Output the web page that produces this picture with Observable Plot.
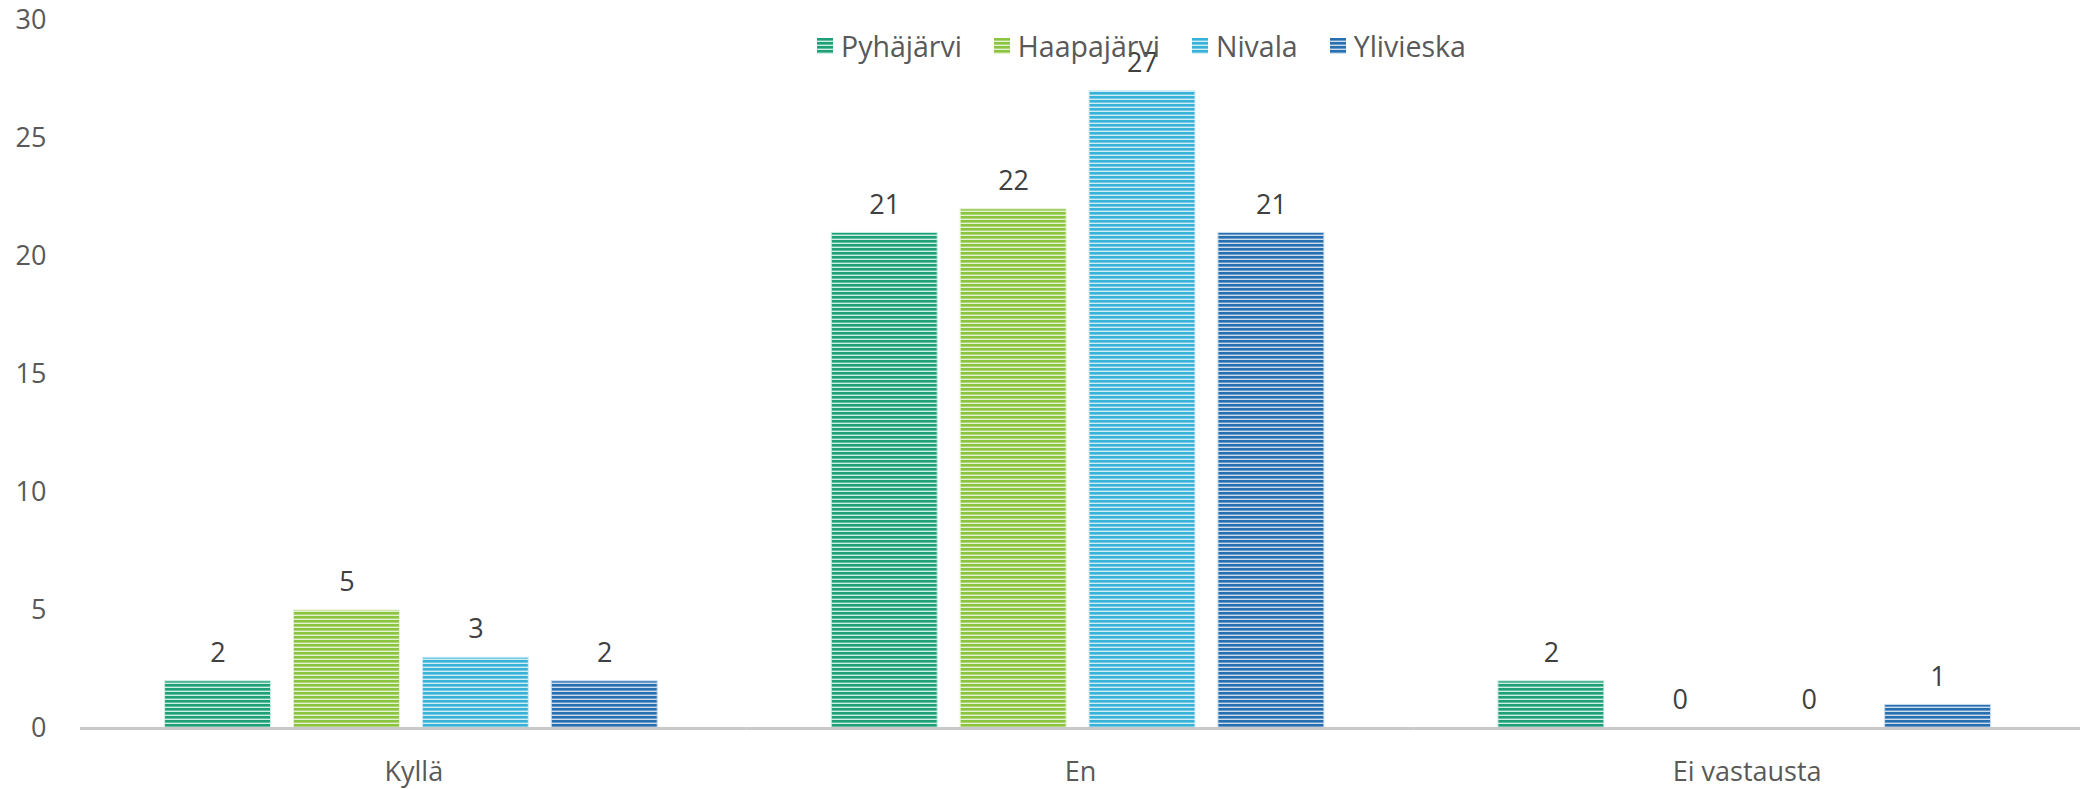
<!DOCTYPE html>
<html>
<head>
<meta charset="utf-8">
<script src="https://cdn.jsdelivr.net/npm/d3@7"></script>
<script src="https://cdn.jsdelivr.net/npm/@observablehq/plot@0.6"></script>
<style>
  body { margin: 0; background: #fff; font-family: "Open Sans", sans-serif; }
  #wrap { position: relative; width: 2080px; height: 789px; }
  #legend { position: absolute; left: 817px; top: 26px; display: flex; align-items: center;
            font-size: 28.5px; line-height: 40px; color: #595959; white-space: nowrap; }
  .item { display: flex; align-items: center; margin-right: 32px; }
  .item svg { margin-right: 8px; }
</style>
</head>
<body>
<div id="wrap"><div id="legend"></div></div>
<script>
const categories = ["Kyllä", "En", "Ei vastausta"];
const series = ["Pyhäjärvi", "Haapajärvi", "Nivala", "Ylivieska"];
const pyhajarvi = [2, 21, 2];
const haapajarvi = [5, 22, 0];
const nivala = [3, 27, 0];
const ylivieska = [2, 21, 1];
const yTicks = [0, 5, 10, 15, 20, 25, 30];
const colors = ["#1f9f78", "#8bc43e", "#38b3d7", "#286fb0"];
const tints = ["#cdeee2", "#e4f2d2", "#d0edf7", "#cbdcef"];

const valuesBySeries = [pyhajarvi, haapajarvi, nivala, ylivieska];
const data = [];
series.forEach((s, i) => categories.forEach((c, j) => data.push({series: s, category: c, value: valuesBySeries[i][j], i})));

const barMarks = series.map((s, i) => Plot.barY(data.filter(d => d.i === i && d.value > 0), {
  fx: "category", x: "series", y: "value",
  fill: `url(#pat${i})`, stroke: tints[i], strokeWidth: 1
}));

const svg = Plot.plot({
  width: 2080, height: 789,
  marginLeft: 80, marginRight: 0, marginTop: 20, marginBottom: 61,
  style: {fontFamily: "Open Sans", fontSize: "27px", background: "#fff"},
  fx: {domain: categories, padding: 0, round: false, label: null},
  x: {domain: series, paddingInner: 0.178, paddingOuter: 0.675, align: 0.486, round: false, axis: null},
  y: {domain: [0, 30], label: null},
  marks: [
    Plot.axisY({ticks: yTicks, tickSize: 0, tickPadding: 34, fill: "#595959", fontSize: 27, label: null}),
    Plot.axisFx({anchor: "bottom", tickSize: 0, tickPadding: 33, fill: "#595959", fontSize: 27, label: null}),
    ...barMarks,
    Plot.ruleY([0], {stroke: "#c9c9c9", strokeWidth: 3}),
    Plot.text(data, {fx: "category", x: "series", y: "value", text: d => String(d.value),
      dy: -28, lineAnchor: "middle", fill: "#404040", fontSize: 27})
  ]
});

const ns = "http://www.w3.org/2000/svg";
const defs = document.createElementNS(ns, "defs");
colors.forEach((c, i) => {
  const p = document.createElementNS(ns, "pattern");
  p.setAttribute("id", `pat${i}`);
  p.setAttribute("patternUnits", "userSpaceOnUse");
  p.setAttribute("width", 4); p.setAttribute("height", 4);
  const bg = document.createElementNS(ns, "rect");
  bg.setAttribute("width", 4); bg.setAttribute("height", 4); bg.setAttribute("fill", tints[i]);
  const fg = document.createElementNS(ns, "rect");
  fg.setAttribute("width", 4); fg.setAttribute("height", 2.6); fg.setAttribute("fill", c);
  p.appendChild(bg); p.appendChild(fg); defs.appendChild(p);
});
svg.prepend(defs);
const wrap = document.getElementById("wrap");
wrap.prepend(svg);

const legend = document.getElementById("legend");
series.forEach((s, i) => {
  const item = document.createElement("div");
  item.className = "item";
  item.innerHTML = `<svg width="16" height="16"><rect width="16" height="16" fill="url(#pat${i})"/></svg><span>${s}</span>`;
  legend.appendChild(item);
});
</script>
</body>
</html>
